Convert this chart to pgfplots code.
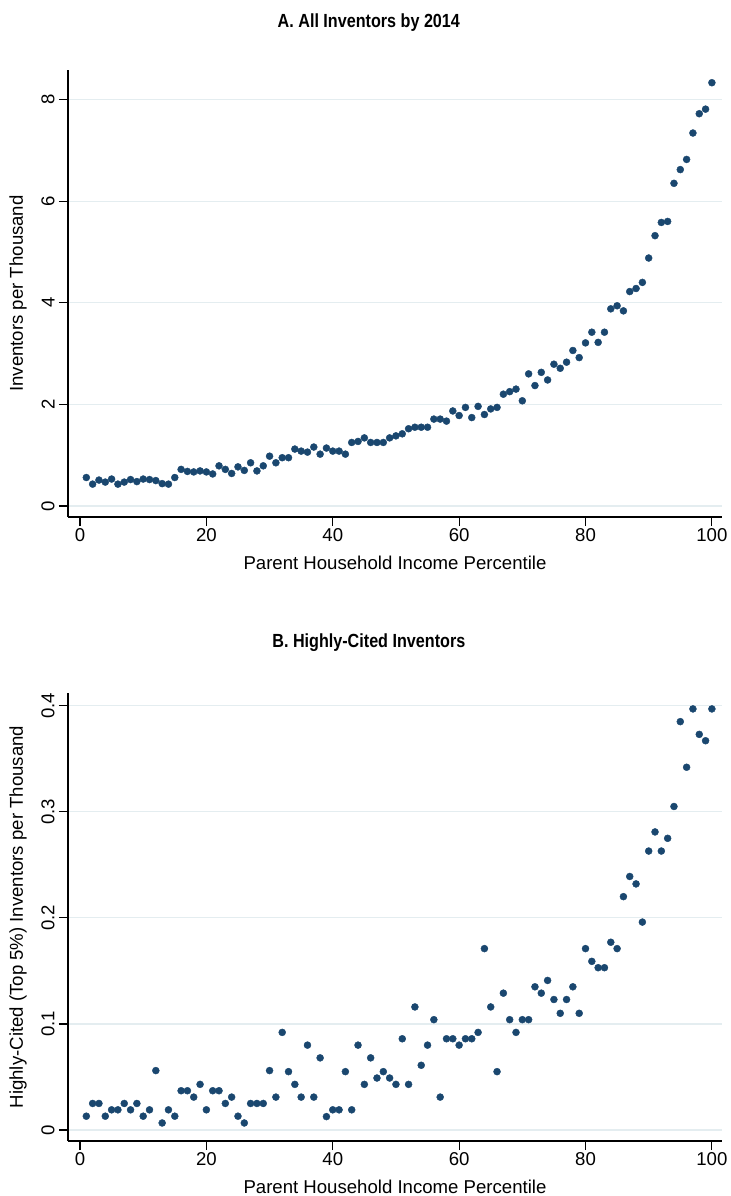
\documentclass[border=0pt]{standalone}
\usepackage{pgfplots}
\pgfplotsset{compat=1.18}
\usepackage{fontspec}
\setmainfont{Liberation Sans}
\definecolor{statanavy}{RGB}{26,71,111}
\definecolor{gridc}{RGB}{228,237,240}
\pgfplotstableread{
x y
1 0.56
2 0.43
3 0.51
4 0.47
5 0.53
6 0.43
7 0.47
8 0.52
9 0.48
10 0.53
11 0.52
12 0.50
13 0.44
14 0.43
15 0.56
16 0.72
17 0.68
18 0.67
19 0.69
20 0.67
21 0.63
22 0.79
23 0.72
24 0.64
25 0.77
26 0.70
27 0.85
28 0.69
29 0.79
30 0.98
31 0.85
32 0.95
33 0.95
34 1.12
35 1.08
36 1.06
37 1.16
38 1.02
39 1.14
40 1.08
41 1.08
42 1.02
43 1.25
44 1.27
45 1.34
46 1.25
47 1.25
48 1.25
49 1.34
50 1.38
51 1.42
52 1.52
53 1.55
54 1.55
55 1.55
56 1.71
57 1.71
58 1.67
59 1.87
60 1.78
61 1.94
62 1.74
63 1.96
64 1.80
65 1.91
66 1.94
67 2.20
68 2.25
69 2.30
70 2.07
71 2.60
72 2.37
73 2.63
74 2.48
75 2.79
76 2.71
77 2.83
78 3.06
79 2.92
80 3.21
81 3.42
82 3.22
83 3.42
84 3.88
85 3.94
86 3.84
87 4.22
88 4.28
89 4.40
90 4.88
91 5.32
92 5.58
93 5.60
94 6.35
95 6.62
96 6.82
97 7.34
98 7.72
99 7.81
100 8.33
}\dataA
\pgfplotstableread{
x y
1 0.013
2 0.025
3 0.025
4 0.013
5 0.019
6 0.019
7 0.025
8 0.019
9 0.025
10 0.013
11 0.019
12 0.056
13 0.0066
14 0.019
15 0.013
16 0.037
17 0.037
18 0.031
19 0.043
20 0.019
21 0.037
22 0.037
23 0.025
24 0.031
25 0.013
26 0.0066
27 0.025
28 0.025
29 0.025
30 0.056
31 0.031
32 0.092
33 0.055
34 0.043
35 0.031
36 0.080
37 0.031
38 0.068
39 0.0126
40 0.019
41 0.019
42 0.055
43 0.019
44 0.080
45 0.043
46 0.068
47 0.049
48 0.055
49 0.049
50 0.043
51 0.086
52 0.043
53 0.116
54 0.061
55 0.080
56 0.104
57 0.031
58 0.086
59 0.086
60 0.080
61 0.086
62 0.086
63 0.092
64 0.171
65 0.116
66 0.055
67 0.129
68 0.104
69 0.092
70 0.104
71 0.104
72 0.135
73 0.129
74 0.141
75 0.123
76 0.110
77 0.123
78 0.135
79 0.110
80 0.171
81 0.159
82 0.153
83 0.153
84 0.177
85 0.171
86 0.220
87 0.239
88 0.232
89 0.196
90 0.263
91 0.281
92 0.263
93 0.275
94 0.305
95 0.385
96 0.342
97 0.397
98 0.373
99 0.367
100 0.397
}\dataB
\tikzset{ttl/.style={font=\bfseries\fontsize{9.5}{11}\selectfont, anchor=center}}
\pgfplotsset{
  statastyle/.style={
    scale only axis,
    clip=false,
    width=327pt,
    axis x line*=bottom,
    axis y line*=left,
    axis line style={line width=0.8pt, black},
    tick align=outside,
    major tick length=4.5pt,
    tick style={line width=0.6pt, black},
    xmin=-1.9, xmax=101.6,
    xtick={0,20,40,60,80,100},
    ymajorgrids,
    grid style={gridc, line width=0.6pt},
    /pgf/number format/assume math mode=true,
    tick label style={font=\fontsize{9.3}{11}\selectfont},
    label style={font=\fontsize{9.3}{11}\selectfont},
    yticklabel style={rotate=90, anchor=south, inner sep=2pt},
    xticklabel style={inner sep=1pt},
    xlabel={Parent Household Income Percentile},
    xlabel style={at={(rel axis cs:0.5,0)}, anchor=center, yshift=-23pt},
    ylabel style={at={(rel axis cs:-0.0765,0.5)}, anchor=center},
  },
  dots/.style={only marks, mark=*, mark size=1.75pt, mark options={fill=statanavy, draw=statanavy, line width=0.2pt}},
}
\begin{document}
\begin{tikzpicture}
\path[use as bounding box] (-34pt,-339.5pt) rectangle (331.5pt,258.5pt);
\begin{axis}[statastyle,
  at={(0pt,0pt)}, anchor=south west,
  height=223.5pt,
  ymin=-0.217, ymax=8.58,
  ytick={0,2,4,6,8},
  ylabel={Inventors per Thousand},
]
\addplot[dots] table[x=x,y=y] {\dataA};
\node[ttl] at (rel axis cs:0.46,1.107) {\scalebox{0.85}[1]{A. All Inventors by 2014}};
\end{axis}
\begin{axis}[statastyle,
  at={(0pt,-312pt)}, anchor=south west,
  height=224pt,
  ymin=-0.0104, ymax=0.412,
  ytick={0,0.1,0.2,0.3,0.4},
  yticklabels={0,0.1,0.2,0.3,0.4},
  ylabel={Highly-Cited (Top 5\%) Inventors per Thousand},
]
\addplot[dots] table[x=x,y=y] {\dataB};
\node[ttl] at (rel axis cs:0.46,1.112) {\scalebox{0.85}[1]{B. Highly-Cited Inventors}};
\end{axis}
\end{tikzpicture}
\end{document}
